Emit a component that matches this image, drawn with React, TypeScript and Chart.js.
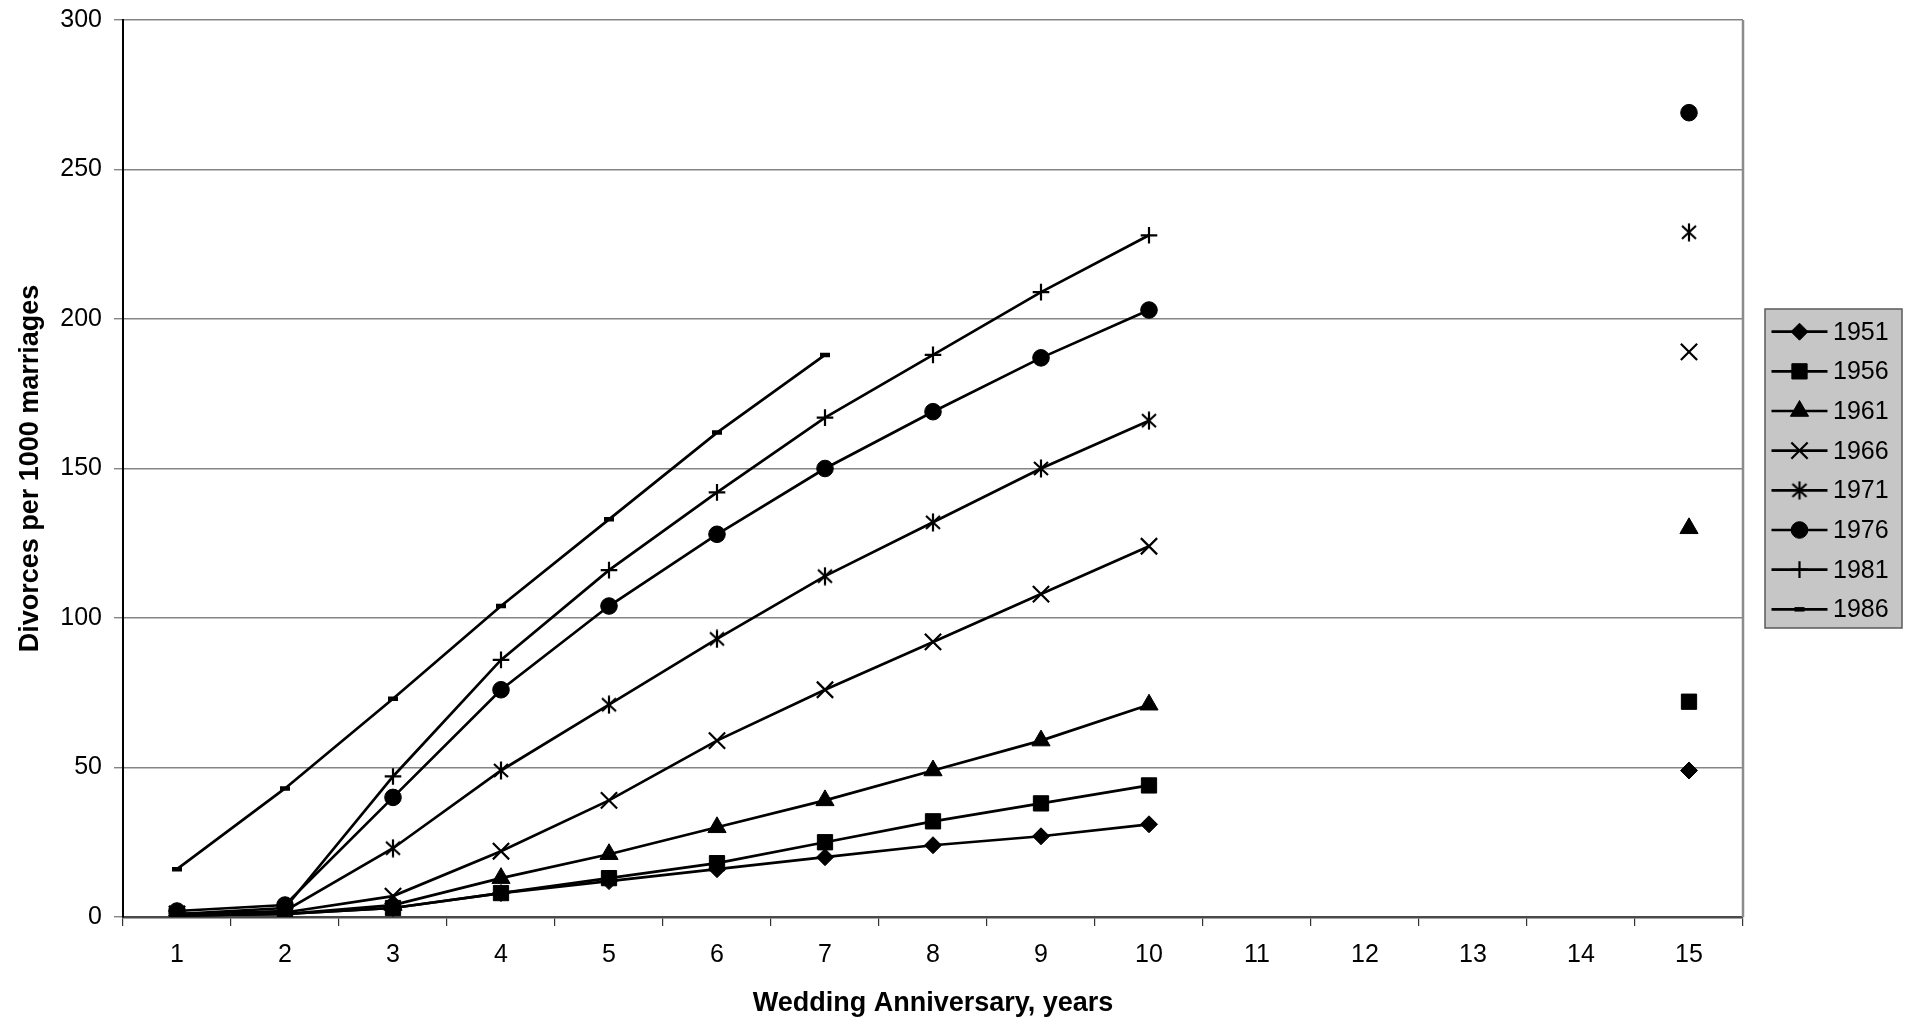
import React, { useEffect, useRef } from "react";
import { Chart, registerables } from "chart.js";
import { drawPoint } from "chart.js/helpers";

Chart.register(...registerables);

const categories = ["1", "2", "3", "4", "5", "6", "7", "8", "9", "10", "11", "12", "13", "14", "15"];
const seriesNames = ["1951", "1956", "1961", "1966", "1971", "1976", "1981", "1986"];

const s1951 = [0.5, 1, 3, 8, 12, 16, 20, 24, 27, 31, null, null, null, null, 49];
const s1956 = [0.5, 1, 3, 8, 13, 18, 25, 32, 38, 44, null, null, null, null, 72];
const s1961 = [0.5, 1, 4, 13, 21, 30, 39, 49, 59, 71, null, null, null, null, 130];
const s1966 = [1, 1.5, 7, 22, 39, 59, 76, 92, 108, 124, null, null, null, null, 189];
const s1971 = [1, 2, 23, 49, 71, 93, 114, 132, 150, 166, null, null, null, null, 229];
const s1976 = [2, 4, 40, 76, 104, 128, 150, 169, 187, 203, null, null, null, null, 269];
const s1981 = [1, 3, 47, 86, 116, 142, 167, 188, 209, 228, null, null, null, null, null];
const s1986 = [16, 43, 73, 104, 133, 162, 188, null, null, null, null, null, null, null, null];

const seriesValues = [s1951, s1956, s1961, s1966, s1971, s1976, s1981, s1986];

const yTicks = { min: 0, max: 300, step: 50 };

const FONT = "'Liberation Sans', Arial, sans-serif";

function makeStar(): HTMLCanvasElement {
  const c = document.createElement("canvas");
  c.width = 18;
  c.height = 19;
  const g = c.getContext("2d")!;
  g.strokeStyle = "#000";
  g.lineWidth = 2.2;
  g.beginPath();
  g.moveTo(2, 3);
  g.lineTo(16, 16);
  g.moveTo(16, 3);
  g.lineTo(2, 16);
  g.moveTo(9, 0.5);
  g.lineTo(9, 18.5);
  g.stroke();
  return c;
}

export default function App() {
  const ref = useRef<HTMLCanvasElement | null>(null);

  useEffect(() => {
    if (!ref.current) return;
    const star = makeStar();
    const markers: any[] = [
      { pointStyle: "rectRot", radius: 8.5, borderWidth: 1 },
      { pointStyle: "rect", radius: 10.8, borderWidth: 1 },
      { pointStyle: "triangle", radius: 10.5, borderWidth: 1 },
      { pointStyle: "crossRot", radius: 11.5, borderWidth: 2.2 },
      { pointStyle: star, radius: 9, borderWidth: 1 },
      { pointStyle: "circle", radius: 8.3, borderWidth: 1 },
      { pointStyle: "cross", radius: 8.3, borderWidth: 2.2 },
      { pointStyle: "line", radius: 5, borderWidth: 4.5 },
    ];

    const datasets = seriesNames.map((name, i) => ({
      label: name,
      data: seriesValues[i],
      borderColor: "#000",
      backgroundColor: "#000",
      borderWidth: 2.7,
      pointStyle: markers[i].pointStyle,
      pointRadius: markers[i].radius,
      pointHoverRadius: markers[i].radius,
      pointBorderWidth: markers[i].borderWidth,
      pointBackgroundColor: "#000",
      pointBorderColor: "#000",
      spanGaps: false,
      tension: 0,
    }));

    const legendPlugin = {
      id: "customLegend",
      afterDraw(chart: any) {
        const ctx = chart.ctx as CanvasRenderingContext2D;
        const { right, top, bottom } = chart.chartArea;
        ctx.save();
        // right border of plot area
        ctx.strokeStyle = "#8c8c8c";
        ctx.lineWidth = 2.5;
        ctx.beginPath();
        ctx.moveTo(right, top);
        ctx.lineTo(right, bottom);
        ctx.stroke();

        // legend box
        const bx = right + 22;
        const by = 309;
        const bw = 137;
        const bh = 319;
        ctx.fillStyle = "#c6c6c6";
        ctx.fillRect(bx, by, bw, bh);
        ctx.strokeStyle = "#5a5a5a";
        ctx.lineWidth = 1.5;
        ctx.strokeRect(bx, by, bw, bh);

        chart.data.datasets.forEach((ds: any, i: number) => {
          const y = by + 22.7 + i * 39.66;
          ctx.strokeStyle = "#000";
          ctx.lineWidth = 2.7;
          ctx.beginPath();
          ctx.moveTo(bx + 6.5, y);
          ctx.lineTo(bx + 62.5, y);
          ctx.stroke();
          ctx.fillStyle = "#000";
          ctx.strokeStyle = "#000";
          ctx.lineWidth = markers[i].borderWidth;
          drawPoint(ctx, { pointStyle: markers[i].pointStyle, radius: markers[i].radius, borderWidth: markers[i].borderWidth, rotation: 0 } as any, bx + 34.5, y);
          ctx.fillStyle = "#000";
          ctx.font = `25px ${FONT}`;
          ctx.textBaseline = "middle";
          ctx.textAlign = "left";
          ctx.fillText(ds.label, bx + 68, y + 1);
        });
        ctx.restore();
      },
    };

    const chart = new Chart(ref.current, {
      type: "line",
      data: { labels: categories, datasets },
      plugins: [legendPlugin],
      options: {
        animation: false,
        responsive: false,
        devicePixelRatio: 1,
        layout: { padding: { top: 20, right: 172, bottom: 0, left: 0 } },
        plugins: {
          legend: { display: false },
          tooltip: { enabled: false },
          title: { display: false },
        },
        scales: {
          x: {
            type: "category",
            offset: true,
            afterFit: (s: any) => {
              s.height = 104;
              s.paddingLeft = 0;
              s.paddingRight = 0;
            },
            grid: {
              display: true,
              offset: true,
              drawOnChartArea: false,
              drawTicks: true,
              tickLength: 9,
              color: "#333",
              lineWidth: 1.2,
            },
            border: { display: true, color: "#4a4a4a", width: 2.5 },
            ticks: {
              color: "#000",
              font: { family: FONT, size: 25 },
              padding: 14,
              maxRotation: 0,
              autoSkip: false,
            },
            title: {
              display: true,
              text: "Wedding Anniversary, years",
              color: "#000",
              font: { family: FONT, size: 27, weight: "bold" },
              padding: { top: 0, bottom: 1 },
            },
          },
          y: {
            min: yTicks.min,
            max: yTicks.max,
            afterFit: (s: any) => {
              s.width = 123;
              s.paddingTop = 0;
              s.paddingBottom = 0;
            },
            grid: {
              color: "#858585",
              lineWidth: 1.4,
              drawTicks: true,
              tickLength: 9,
            },
            border: { display: true, color: "#000", width: 2 },
            ticks: {
              stepSize: yTicks.step,
              color: "#000",
              font: { family: FONT, size: 25 },
              padding: 12,
            },
            title: {
              display: true,
              text: "Divorces per 1000 marriages",
              color: "#000",
              font: { family: FONT, size: 27, weight: "bold" },
              padding: { top: 14, bottom: 0 },
            },
          },
        },
      } as any,
    });
    return () => chart.destroy();
  }, []);

  return (
    <div style={{ position: "fixed", left: 0, top: 0, width: "1915px", height: "1021px", background: "#fff" }}>
      <canvas ref={ref} width={1915} height={1021} style={{ width: "1915px", height: "1021px", display: "block" }} />
    </div>
  );
}
